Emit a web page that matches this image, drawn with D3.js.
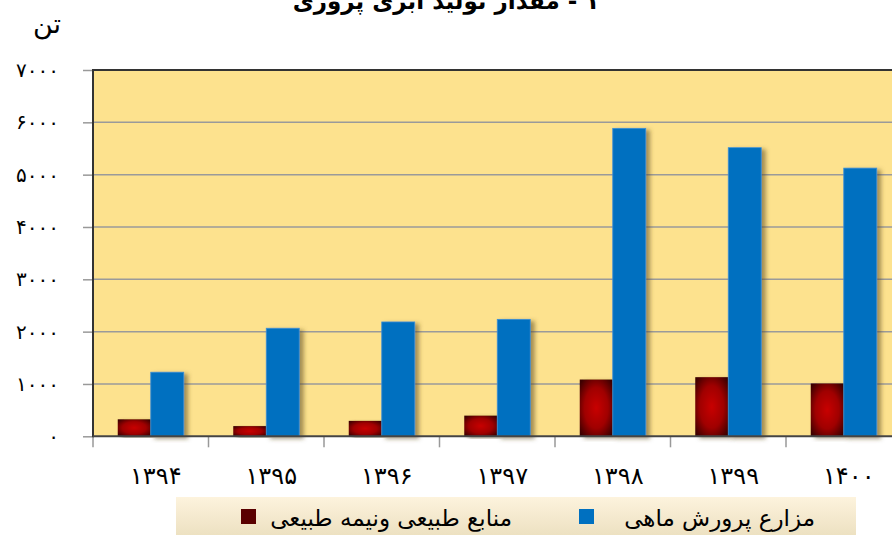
<!DOCTYPE html>
<html>
<head>
<meta charset="utf-8">
<script src="https://cdn.jsdelivr.net/npm/d3@7"></script>
<style>
  body { margin: 0; background: #fff; }
  text { font-family: "DejaVu Sans", sans-serif; }
</style>
</head>
<body>
<div id="chart"></div>
<script>
// data
var years = ["۱۳۹۴", "۱۳۹۵", "۱۳۹۶", "۱۳۹۷", "۱۳۹۸", "۱۳۹۹", "۱۴۰۰"];
var naturalValues = [325, 195, 295, 395, 1085, 1130, 1010];   // منابع طبیعی ونیمه طبیعی
var farmValues = [1225, 2065, 2185, 2235, 5885, 5515, 5125];   // مزارع پرورش ماهی
var yTicks = [0, 1000, 2000, 3000, 4000, 5000, 6000, 7000];
var seriesNames = ["منابع طبیعی ونیمه طبیعی", "مزارع پرورش ماهی"];

var svgWidth = 892, svgHeight = 535;
var margin = { top: 70, left: 93 };
var plotBottom = 436.3;
var plotRight = 901.5;

var toFa = function (n) {
    return String(n).replace(/\d/g, d => "۰۱۲۳۴۵۶۷۸۹"[d]);
};

var svg = d3.select("#chart").append("svg")
    .attr("width", svgWidth)
    .attr("height", svgHeight);

var defs = svg.append("defs");
var rg = defs.append("radialGradient").attr("id", "redGrad")
    .attr("cx", "50%").attr("cy", "50%").attr("r", "65%");
rg.append("stop").attr("offset", "0%").attr("stop-color", "#c80000");
rg.append("stop").attr("offset", "55%").attr("stop-color", "#a00000");
rg.append("stop").attr("offset", "100%").attr("stop-color", "#3c0000");

var lg = defs.append("linearGradient").attr("id", "legGrad")
    .attr("x1", 0).attr("y1", 0).attr("x2", 0).attr("y2", 1);
lg.append("stop").attr("offset", "0%").attr("stop-color", "#fdf3dd");
lg.append("stop").attr("offset", "100%").attr("stop-color", "#ece0c0");

var sh = defs.append("filter").attr("id", "shadow")
    .attr("x", "-20%").attr("y", "-10%").attr("width", "160%").attr("height", "120%");
sh.append("feDropShadow").attr("dx", 4).attr("dy", 2).attr("stdDeviation", 2)
    .attr("flood-color", "#5a4a1e").attr("flood-opacity", 0.55);

// scales
var x0 = d3.scaleBand().domain(years).range([margin.left, plotRight]);
var groupW = 66;
var x1 = d3.scaleBand().domain([0, 1]).range([0, groupW]);
var y = d3.scaleLinear().domain([0, 7000]).range([plotBottom, margin.top]);

// plot background
svg.append("rect")
    .attr("x", margin.left).attr("y", margin.top)
    .attr("width", plotRight - margin.left).attr("height", plotBottom - margin.top)
    .attr("fill", "#fde28e");

// gridlines
svg.append("g").selectAll("line")
    .data(yTicks.filter(d => d > 0 && d < 7000))
    .enter().append("line")
    .attr("x1", margin.left).attr("x2", plotRight)
    .attr("y1", d => y(d)).attr("y2", d => y(d))
    .attr("stroke", "#9a9a9a").attr("stroke-width", 1.5);

// y axis
var leftAxis = d3.axisLeft(y).tickValues(yTicks).tickSize(10).tickPadding(24)
    .tickFormat(d => toFa(d));
var gy = svg.append("g").attr("transform", `translate(${margin.left},0)`).call(leftAxis);
gy.select(".domain").remove();
gy.selectAll(".tick line").attr("stroke", "#999").attr("stroke-width", 1.5);
gy.selectAll(".tick text")
    .attr("font-size", 20).attr("fill", "#000")
    .attr("letter-spacing", 8)
    .attr("dy", "0.32em");

// x axis ticks at band boundaries
var bounds = years.map(d => x0(d));
svg.append("g").selectAll("line").data(bounds).enter().append("line")
    .attr("x1", d => d).attr("x2", d => d)
    .attr("y1", plotBottom).attr("y2", plotBottom + 11)
    .attr("stroke", "#999").attr("stroke-width", 1.5);

// bars
var groups = svg.append("g").selectAll("g")
    .data(years).enter().append("g")
    .attr("transform", d => `translate(${x0(d) + (x0.bandwidth() - groupW) / 2},0)`);

groups.append("rect")
    .attr("x", x1(0)).attr("width", x1.bandwidth())
    .attr("y", (d, i) => y(naturalValues[i]))
    .attr("height", (d, i) => plotBottom - y(naturalValues[i]))
    .attr("fill", "url(#redGrad)")
    .attr("filter", "url(#shadow)");

groups.append("rect")
    .attr("x", x1(1)).attr("width", x1.bandwidth())
    .attr("y", (d, i) => y(farmValues[i]))
    .attr("height", (d, i) => plotBottom - y(farmValues[i]))
    .attr("fill", "#0070c0")
    .attr("stroke", "#3d8fd6").attr("stroke-width", 0.8)
    .attr("filter", "url(#shadow)");

// frame lines
svg.append("line").attr("x1", margin.left).attr("x2", plotRight)
    .attr("y1", margin.top).attr("y2", margin.top)
    .attr("stroke", "#333").attr("stroke-width", 2);
svg.append("line").attr("x1", margin.left).attr("x2", margin.left)
    .attr("y1", margin.top - 1).attr("y2", plotBottom + 1)
    .attr("stroke", "#333").attr("stroke-width", 2);
svg.append("line").attr("x1", margin.left).attr("x2", plotRight)
    .attr("y1", plotBottom).attr("y2", plotBottom)
    .attr("stroke", "#444").attr("stroke-width", 2);

// x labels
svg.append("g").selectAll("text").data(years).enter().append("text")
    .attr("x", d => x0(d) + x0.bandwidth() / 2 + 5)
    .attr("y", 484)
    .attr("text-anchor", "middle")
    .attr("font-size", 24)
    .attr("letter-spacing", 9)
    .text(d => d);

// unit label
svg.append("text").attr("x", 47).attr("y", 33)
    .attr("text-anchor", "middle").attr("font-size", 27)
    .text("تن");

// title (cut off at top)
svg.append("text").attr("x", 446).attr("y", 9)
    .attr("text-anchor", "middle").attr("font-size", 23).attr("font-weight", "bold")
    .attr("direction", "rtl")
    .text("۱ - مقدار تولید آبزی پروری");

// legend
var leg = svg.append("g");
leg.append("rect").attr("x", 176).attr("y", 497).attr("width", 680).attr("height", 40)
    .attr("fill", "url(#legGrad)");
var legItems = [
    { name: seriesNames[1], color: "#0070c0", sq: 579, tx: 815 },
    { name: seriesNames[0], color: "#5a0000", sq: 241, tx: 512 }
];
legItems.forEach(function (d) {
    leg.append("rect").attr("x", d.sq).attr("y", 509).attr("width", 15).attr("height", 15)
        .attr("fill", d.color);
    leg.append("text").attr("x", d.tx).attr("y", 526)
        .attr("text-anchor", "start").attr("font-size", 23)
        .attr("direction", "rtl")
        .text(d.name);
});
</script>
</body>
</html>
